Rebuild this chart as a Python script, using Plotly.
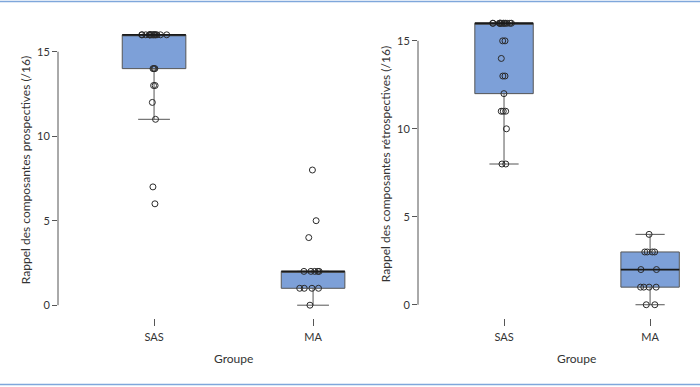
import numpy as np
import plotly.graph_objects as go

# ---- data ----
groups = ["SAS", "MA"]
sas_prosp = [16, 16, 16, 16, 16, 16, 16, 16, 16, 16, 16, 16, 16, 16, 16, 16,
             14, 14, 14, 13, 13, 12, 11, 7, 6]
ma_prosp = [8, 5, 4, 2, 2, 2, 2, 2, 1, 1, 1, 1, 0]
sas_retro = [16, 16, 16, 16, 16, 16, 16, 16, 16, 16, 16, 16, 16,
             15, 15, 14, 13, 13, 12, 11, 11, 11, 10, 8, 8]
ma_retro = [4, 3, 3, 3, 3, 2, 2, 1, 1, 1, 1, 0, 0]
y_ticks = [0, 5, 10, 15]
y_title_left = "Rappel des composantes prospectives (/16)"
y_title_right = "Rappel des composantes rétrospectives (/16)"
x_title = "Groupe"

FONT = "Lato"
BOX_FILL = "#7DA0D8"
BOX_LINE = "#555555"
AXIS_COL = "#555555"
TEXT_COL = "#333333"
BOX_W = 0.4

fig = go.Figure()


def add_box(sas, ma, xa, ya):
    fig.add_trace(go.Box(
        x=[groups[0]] * len(sas) + [groups[1]] * len(ma),
        y=sas + ma,
        xaxis=xa, yaxis=ya,
        boxpoints="all", jitter=0.45, pointpos=0,
        quartilemethod="inclusive",
        width=BOX_W, whiskerwidth=0.5,
        fillcolor=BOX_FILL,
        line=dict(color=BOX_LINE, width=1),
        marker=dict(symbol="circle-open", size=6, color="#2a2a2a",
                    line=dict(width=1, color="#2a2a2a")),
        showlegend=False,
    ))
    # thicker median line (R style), computed from the data
    for i, vals in enumerate([sas, ma]):
        med = float(np.median(vals))
        fig.add_shape(type="line", xref=xa, yref=ya,
                      x0=i - BOX_W / 2, x1=i + BOX_W / 2, y0=med, y1=med,
                      line=dict(color="#1a1a1a", width=1.8), layer="above")


add_box(sas_prosp, ma_prosp, "x", "y")
add_box(sas_retro, ma_retro, "x2", "y2")

W, H = 700, 387


def px_x(p):
    return p / W


def px_y(p):
    return 1 - p / H


axis_common = dict(
    type="category", categoryarray=groups,
    showgrid=False, zeroline=False, showline=False,
    ticks="outside", ticklen=7, tickcolor=AXIS_COL, tickwidth=1,
    ticklabelstandoff=2,
    tickfont=dict(family=FONT, size=11, color=TEXT_COL),
    anchor="free", position=px_y(318),
)
yaxis_common = dict(
    tickvals=y_ticks, range=[-0.64, 16.64],
    showgrid=False, zeroline=False, showline=False,
    ticks="outside", ticklen=5, tickcolor=AXIS_COL, tickwidth=1,
    tickfont=dict(family=FONT, size=11, color=TEXT_COL),
)

fig.update_layout(
    width=W, height=H,
    margin=dict(l=0, r=0, t=0, b=0),
    paper_bgcolor="white", plot_bgcolor="white",
    font=dict(family=FONT, color=TEXT_COL),
    xaxis=dict(axis_common, domain=[px_x(58), px_x(408)],
               range=[-0.604, 1.597]),
    yaxis=dict(yaxis_common, domain=[px_y(316), px_y(24)], anchor="x",
               title=dict(text=y_title_left, standoff=3,
                          font=dict(family=FONT, size=12, color=TEXT_COL))),
    xaxis2=dict(axis_common, domain=[px_x(418), px_x(698)],
                range=[-0.589, 1.328]),
    yaxis2=dict(yaxis_common, domain=[px_y(316), px_y(12)], anchor="x2",
                title=dict(text=y_title_right, standoff=3,
                           font=dict(family=FONT, size=12, color=TEXT_COL))),
)

# axis lines spanning the tick range (R style)
for ya in ["y", "y2"]:
    xa = "x" if ya == "y" else "x2"
    fig.add_shape(type="line", xref=f"{xa} domain", yref=ya,
                  x0=0, x1=0, y0=min(y_ticks), y1=max(y_ticks),
                  line=dict(color=AXIS_COL, width=1))

# x titles
for xc in [233, 576]:
    fig.add_annotation(text=x_title, xref="paper", yref="paper",
                       x=px_x(xc), y=px_y(358), showarrow=False,
                       xanchor="center", yanchor="middle",
                       font=dict(family=FONT, size=12, color=TEXT_COL))

# blue frame lines top and bottom
for yp in [1.5, 384.5]:
    fig.add_shape(type="line", xref="paper", yref="paper",
                  x0=0, x1=1, y0=px_y(yp), y1=px_y(yp),
                  line=dict(color="#7FA7DB", width=1.5))

fig.write_html("out.html",
               config={"displayModeBar": False},
               post_script="document.body.style.margin='0';"
                           "document.body.style.overflow='hidden';")
